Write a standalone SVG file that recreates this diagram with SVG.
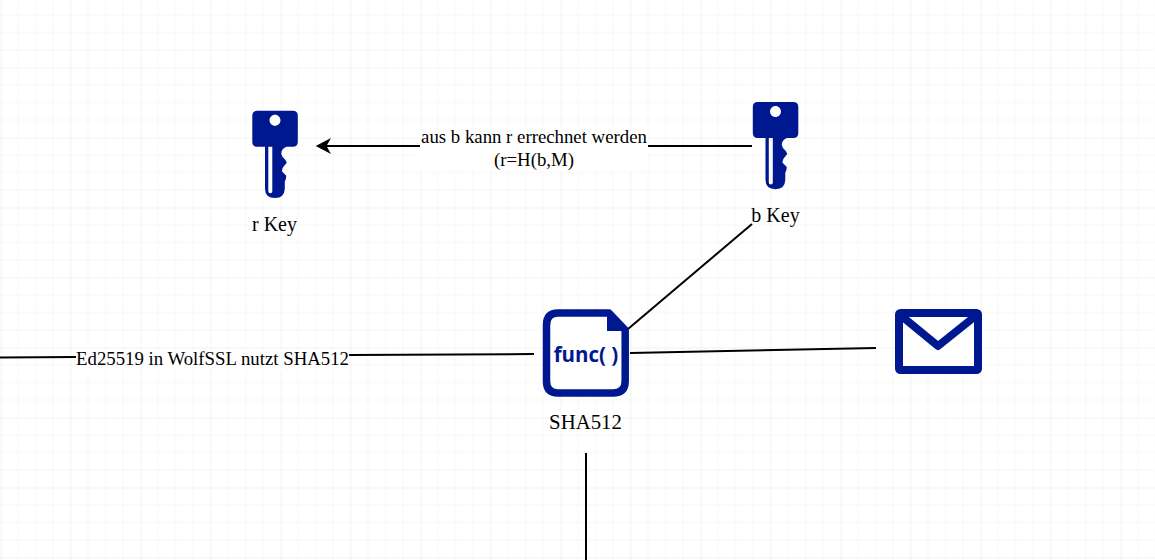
<svg xmlns="http://www.w3.org/2000/svg" width="1155" height="560" viewBox="0 0 1155 560">
<style>
.lbl{font-family:"Liberation Serif","Times New Roman",serif;font-size:20px;fill:#000;text-anchor:middle}
.sm{font-size:18.800px}
.sha{font-size:20.800px}
.conn{stroke:#000;stroke-width:2;fill:none}
.ink{fill:#00188f}
.bg{fill:#fff}
</style>
<defs>
<pattern id="grid" width="70" height="70" patternUnits="userSpaceOnUse" x="0.5" y="-2.5">
<path d="M17.5 0V70M35 0V70M52.5 0V70M0 17.5H70M0 35H70M0 52.5H70" stroke="#f6f6f6" stroke-width="1" fill="none"/>
<path d="M0 0V70M0 0H70" stroke="#e8e8e8" stroke-width="1" fill="none"/>
</pattern>
<path id="key" fill-rule="evenodd" d="M5 0H40.500Q45.500 0 45.500 5V31Q45.500 36 40.500 36H34Q29 38 29 43Q29.500 46.500 33 49L34.500 52L32 55Q29 58 30 61L34 65L33.500 68.500L32.500 70.500V78Q32 87.200 22.800 87.200Q12.700 87.200 12.700 78V36H5Q0 36 0 31V5Q0 0 5 0ZM22.700 4C19.700 4 17.200 6.500 17.200 9.500C17.200 12.500 19.700 15 22.700 15C25.700 15 28.200 12.500 28.200 9.500C28.200 6.500 25.700 4 22.700 4ZM16 36V80.500Q16 82.500 18 82.500Q20 82.500 20 80.500V36Z"/>
</defs>
<rect width="1155" height="560" fill="#fff"/>
<rect width="1155" height="560" fill="url(#grid)"/>
<g id="connectors">
<path class="conn" d="M752 146H648"/>
<path class="conn" d="M420 146H326"/>
<path d="M315.700 146L331 138L326.500 146L331 154Z" fill="#000"/>
<path class="conn" d="M752 224L628 329"/>
<path class="conn" d="M0 357.500L76 357M349 355L534 354"/>
<path class="conn" d="M630 353L876 348"/>
<path class="conn" d="M586 453V560"/>
</g>
<g id="r-key">
<use href="#key" x="252.300" y="110.800" class="ink"/>
<text class="lbl" x="274.500" y="231">r Key</text>
</g>
<g id="b-key">
<use href="#key" x="752.800" y="102" class="ink"/>
<text class="lbl" x="775.500" y="222">b Key</text>
</g>
<g id="sha512">
<path d="M558 313H609L625.200 330V381Q625.200 393 613 393H558Q546.500 393 546.500 381V325Q546.500 313 558 313Z" fill="#fff" stroke="#00188f" stroke-width="7.500" stroke-linejoin="round"/>
<path class="ink" d="M607 312L628 331H607Z"/>
<text x="586" y="361.500" text-anchor="middle" font-family="Open Sans, Noto Sans, sans-serif" font-weight="700" font-size="20.500" class="ink">func( )</text>
<text class="lbl sha" x="585.500" y="429">SHA512</text>
</g>
<g id="envelope">
<rect x="899" y="313" width="79" height="57" rx="1.500" fill="#fff" stroke="#00188f" stroke-width="8" stroke-linejoin="round"/>
<path d="M899 314L938 346L978 314" fill="none" stroke="#00188f" stroke-width="8" stroke-linejoin="round"/>
</g>
<g id="edge-labels">
<rect class="bg" x="420" y="128" width="228" height="43"/>
<text class="lbl sm" x="534" y="142.500">aus b kann r errechnet werden</text>
<text class="lbl sm" x="534" y="165.700">(r=H(b,M)</text>
<rect class="bg" x="76" y="350" width="273" height="20"/>
<text class="lbl sm" x="212.500" y="364.500">Ed25519 in WolfSSL nutzt SHA512</text>
</g>
</svg>
